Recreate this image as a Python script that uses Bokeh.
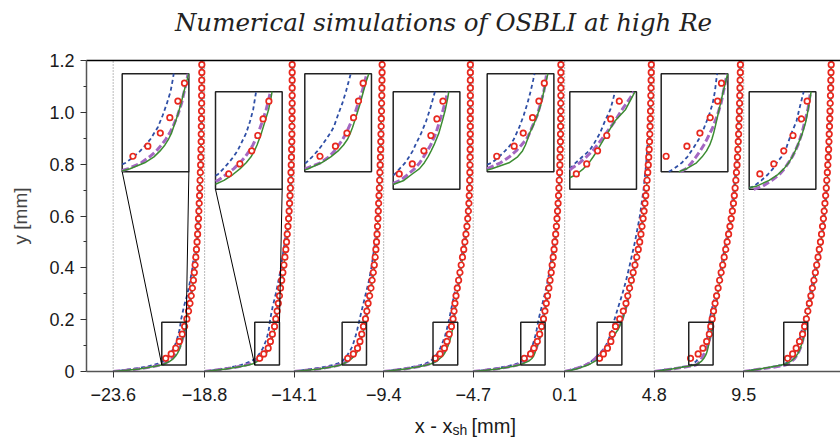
from bokeh.plotting import figure
from bokeh.models import FixedTicker, LinearAxis, Label, Range1d
from bokeh.layouts import column
from bokeh.embed import file_html
from bokeh.resources import INLINE

# ---------------- data ----------------
stations = [-23.6, -18.8, -14.1, -9.4, -4.7, 0.1, 4.8, 9.5]
station_labels = ["\u221223.6", "\u221218.8", "\u221214.1", "\u22129.4", "\u22124.7", "0.1", "4.8", "9.5"]
y_ticks = [0, 0.2, 0.4, 0.6, 0.8, 1.0, 1.2]
y_tick_labels = ["0", "0.2", "0.4", "0.6", "0.8", "1.0", "1.2"]
y_minor = [0.1, 0.3, 0.5, 0.7, 0.9, 1.1]

# wall-normal positions of the model profiles [mm]
y_line = [0, 0.005, 0.01, 0.015, 0.02, 0.025, 0.03, 0.04, 0.05, 0.06, 0.07, 0.08, 0.09, 0.10,
          0.12, 0.14, 0.16, 0.18, 0.20, 0.25, 0.30, 0.35, 0.40, 0.50, 0.60, 0.70, 0.80, 0.90,
          1.00, 1.10, 1.20]

# u/U profiles, green solid model
u_green = [
    [0, .15, .29, .39, .47, .535, .575, .635, .673, .698, .718, .733, .745, .753, .770, .784, .796, .809, .822, .852, .876, .897, .913, .938, .957, .970, .979, .985, .988, .990, .991],
    [0, .12, .24, .34, .42, .49, .54, .595, .632, .662, .687, .707, .721, .732, .750, .765, .780, .790, .798, .818, .840, .862, .883, .917, .945, .962, .972, .977, .979, .980, .980],
    [0, .14, .28, .38, .46, .515, .55, .604, .642, .672, .694, .711, .722, .731, .747, .762, .775, .789, .805, .825, .850, .873, .893, .922, .938, .952, .962, .970, .976, .980, .983],
    [0, .12, .24, .34, .42, .48, .53, .595, .627, .660, .680, .695, .708, .720, .740, .754, .767, .777, .785, .800, .820, .842, .864, .910, .944, .958, .964, .967, .968, .968, .968],
    [0, .14, .27, .37, .45, .51, .55, .62, .655, .675, .687, .696, .704, .716, .736, .751, .762, .773, .784, .810, .835, .860, .880, .915, .940, .960, .970, .976, .979, .980, .980],
    [0, .07, .13, .18, .22, .26, .29, .34, .39, .42, .443, .46, .476, .49, .519, .549, .594, .62, .645, .688, .72, .75, .78, .835, .88, .912, .935, .95, .96, .966, .97],
    [0, .10, .20, .29, .38, .458, .49, .53, .553, .571, .584, .593, .600, .606, .617, .628, .639, .651, .663, .685, .71, .735, .762, .815, .865, .902, .926, .94, .95, .957, .963],
    [0, .09, .18, .27, .35, .42, .475, .527, .562, .587, .606, .620, .632, .642, .661, .675, .684, .692, .700, .73, .76, .79, .815, .865, .90, .925, .945, .958, .968, .975, .98],
]
# purple dashed model
u_purple = [
    [0, .14, .27, .38, .46, .525, .568, .621, .655, .683, .704, .722, .737, .750, .770, .786, .797, .808, .818, .848, .873, .894, .911, .937, .956, .969, .978, .984, .987, .989, .990],
    [0, .11, .22, .32, .40, .46, .51, .57, .604, .636, .661, .683, .700, .715, .737, .754, .770, .782, .793, .815, .837, .860, .881, .916, .944, .961, .971, .976, .978, .979, .979],
    [0, .13, .26, .36, .44, .50, .54, .60, .635, .657, .675, .691, .705, .716, .738, .754, .770, .783, .795, .820, .846, .870, .890, .920, .937, .951, .961, .969, .975, .979, .982],
    [0, .12, .23, .33, .41, .47, .52, .58, .612, .640, .661, .677, .692, .706, .728, .743, .758, .771, .780, .797, .818, .840, .862, .908, .943, .957, .963, .966, .967, .967, .967],
    [0, .13, .25, .35, .43, .49, .53, .585, .622, .649, .671, .692, .704, .714, .735, .749, .762, .770, .777, .805, .830, .855, .877, .913, .939, .959, .969, .975, .978, .979, .979],
    [0, .06, .11, .16, .20, .235, .265, .31, .34, .37, .405, .432, .457, .477, .514, .549, .580, .614, .642, .686, .718, .748, .778, .833, .878, .91, .933, .948, .958, .965, .969],
    [0, .10, .21, .30, .39, .465, .487, .51, .528, .545, .560, .573, .585, .597, .615, .630, .640, .650, .658, .682, .708, .733, .76, .813, .863, .90, .924, .938, .948, .956, .962],
    [0, .10, .20, .30, .39, .465, .50, .537, .568, .589, .605, .620, .632, .643, .659, .671, .683, .690, .698, .728, .758, .788, .813, .863, .898, .923, .943, .956, .966, .973, .978],
]
# blue dashed model
u_blue = [
    [0, .11, .22, .31, .39, .45, .50, .558, .589, .617, .639, .659, .674, .689, .709, .726, .741, .750, .758, .79, .83, .86, .885, .922, .948, .965, .976, .983, .987, .989, .990],
    [0, .10, .19, .27, .34, .40, .45, .52, .569, .593, .615, .634, .651, .663, .687, .703, .716, .724, .732, .76, .795, .825, .852, .895, .93, .952, .966, .973, .977, .978, .979],
    [0, .10, .20, .29, .37, .43, .48, .541, .566, .588, .607, .624, .640, .654, .671, .689, .704, .717, .730, .765, .80, .835, .862, .905, .928, .945, .957, .966, .973, .978, .981],
    [0, .10, .19, .28, .35, .41, .46, .52, .556, .578, .601, .617, .632, .643, .667, .687, .703, .717, .730, .76, .79, .82, .848, .898, .935, .952, .96, .964, .966, .967, .967],
    [0, .11, .21, .30, .38, .44, .49, .55, .579, .604, .626, .640, .651, .662, .680, .695, .708, .719, .729, .765, .80, .832, .858, .902, .932, .955, .966, .973, .977, .978, .979],
    [0, .06, .11, .15, .19, .225, .255, .30, .335, .363, .388, .415, .443, .460, .488, .508, .531, .544, .556, .60, .645, .685, .72, .785, .84, .88, .91, .932, .947, .957, .964],
    [0, .09, .18, .27, .35, .417, .438, .47, .493, .509, .525, .540, .553, .562, .581, .596, .605, .611, .618, .65, .685, .715, .745, .80, .85, .89, .916, .932, .943, .952, .959],
    [0, .09, .18, .27, .35, .43, .465, .496, .522, .543, .558, .577, .593, .600, .617, .637, .648, .660, .672, .705, .74, .772, .80, .855, .893, .92, .94, .954, .964, .971, .977],
]

# experimental points (red circles)
exp_y = [0.051, 0.068, 0.090, 0.116, 0.144, 0.174, 0.203, 0.233, 0.263, 0.292, 0.322, 0.352,
         0.382, 0.411, 0.441, 0.471, 0.500, 0.530, 0.560, 0.590, 0.619, 0.649, 0.679, 0.708,
         0.738, 0.768, 0.797, 0.827, 0.857, 0.887, 0.916, 0.946, 0.976, 1.005, 1.035, 1.065,
         1.094, 1.124, 1.154, 1.184]
exp_u = [
    [.587, .648, .699, .738, .771, .798, .823, .842, .858, .872, .885, .896, .906, .915, .923, .930, .937, .943, .948, .953, .957, .961, .965, .968, .971, .974, .977, .979, .981, .983, .984, .985, .986, .987, .988, .988, .989, .989, .990, .990],
    [.615, .661, .710, .735, .757, .781, .795, .81, .823, .836, .848, .861, .874, .886, .897, .907, .915, .923, .931, .938, .944, .949, .954, .958, .962, .965, .968, .970, .972, .974, .975, .976, .977, .977, .978, .978, .978, .978, .978, .978],
    [.598, .661, .708, .735, .755, .774, .797, .812, .826, .843, .858, .871, .884, .895, .905, .913, .920, .926, .931, .936, .940, .944, .948, .952, .955, .958, .961, .964, .966, .968, .970, .972, .974, .976, .977, .979, .980, .981, .982, .983],
    [.576, .630, .678, .707, .732, .757, .775, .786, .796, .808, .822, .837, .852, .866, .880, .894, .907, .919, .930, .939, .946, .952, .956, .959, .961, .963, .964, .965, .966, .966, .967, .967, .967, .968, .968, .968, .968, .968, .968, .968],
    [.570, .641, .678, .716, .742, .764, .785, .801, .816, .830, .845, .858, .871, .882, .893, .903, .912, .921, .929, .936, .942, .948, .953, .957, .961, .965, .968, .970, .972, .974, .975, .976, .977, .978, .978, .979, .979, .979, .979, .979],
    [.390, .433, .478, .516, .532, .568, .615, .655, .685, .705, .725, .745, .765, .785, .805, .822, .838, .852, .864, .876, .887, .897, .906, .914, .921, .928, .934, .939, .944, .948, .951, .954, .957, .959, .961, .963, .965, .966, .967, .968],
    [.406, .491, .544, .586, .616, .632, .648, .663, .68, .697, .714, .731, .748, .765, .782, .799, .815, .831, .846, .860, .873, .885, .895, .904, .912, .919, .925, .930, .935, .939, .943, .946, .949, .952, .954, .956, .958, .960, .962, .963],
    [.490, .546, .586, .623, .657, .680, .700, .716, .733, .750, .767, .784, .800, .815, .830, .844, .857, .869, .880, .890, .899, .907, .915, .922, .928, .934, .939, .944, .948, .952, .955, .958, .961, .964, .966, .969, .971, .973, .975, .977],
]

# zoom windows (u/U range and y range) shown magnified in the insets
zoom_u_lo = [.543, .560, .536, .551, .531, .363, .386, .447]
zoom_u_hi = [.816, .836, .808, .827, .803, .639, .658, .715]
zoom_y = [0.025, 0.19]

title_text = "Numerical simulations of OSBLI at high Re"

# ---------------- layout / style ----------------
U_SCALE = 4.7          # mm of x per unit u/U
inset_left = [-23.126, -18.228, -13.541, -8.9, -3.966, 0.37, 5.168, 9.787]
INSET_W = 3.5
INSET_Y_HIGH = (0.771, 1.149)
INSET_Y_LOW = (0.703, 1.0795)

GREEN = "#3c8c32"
BLUE = "#2f4fa6"
PURPLE = "#a467c2"
RED = "#e8281e"
FONT = "Liberation Sans"
W = 840
FRAME_LEFT = 86
MK_SIZE = 5.5
MK_LW = 1.7


def text_panel(height):
    # its frame is aligned with the main plot's frame (page x 86..840)
    f = figure(width=W, height=height, output_backend="svg", toolbar_location=None,
               x_range=Range1d(FRAME_LEFT, W), y_range=Range1d(0, height),
               x_axis_type=None, y_axis_type=None, min_border=0)
    f.outline_line_color = None
    f.grid.visible = False
    f.background_fill_color = "white"
    f.border_fill_color = "white"
    return f


# title panel (page rows 0..48)
title_fig = text_panel(48)
title_fig.add_layout(Label(x=443, y=48 - 22, text=title_text,
                           text_font="DejaVu Serif", text_font_style="italic", text_font_size="24.5px",
                           text_align="center", text_baseline="middle", text_color="#222222"))

# main plot (page rows 48..411)
p = figure(width=W, height=363, output_backend="svg", toolbar_location=None,
           x_range=Range1d(-25, 14.58), y_range=Range1d(0, 1.2),
           min_border_left=FRAME_LEFT, min_border_right=0, min_border_top=12, min_border_bottom=40)
p.outline_line_color = None
p.grid.visible = False
p.background_fill_color = "white"
p.border_fill_color = "white"

p.xaxis.ticker = FixedTicker(ticks=stations)
p.xaxis.major_label_overrides = {s: l for s, l in zip(stations, station_labels)}
p.yaxis.ticker = FixedTicker(ticks=y_ticks, minor_ticks=y_minor)
p.yaxis.major_label_overrides = {t: l for t, l in zip(y_ticks, y_tick_labels)}
for ax in (p.xaxis[0], p.yaxis[0]):
    ax.major_label_text_font = FONT
    ax.major_label_text_font_size = "18px"
    ax.major_label_text_color = "#1a1a1a"
    ax.axis_line_color = "#555555"
    ax.axis_line_width = 1.5
    ax.major_tick_line_color = "#333333"
    ax.minor_tick_line_color = "#333333"
    ax.major_tick_in = 0
    ax.major_tick_out = 6
    ax.minor_tick_in = 0
    ax.minor_tick_out = 3
p.xaxis.major_label_standoff = 10
p.yaxis.major_label_standoff = 6
p.yaxis.axis_label = "y [mm]"
p.yaxis.axis_label_text_font = FONT
p.yaxis.axis_label_text_font_size = "19px"
p.yaxis.axis_label_text_font_style = "normal"
p.yaxis.axis_label_standoff = 15

top_axis = LinearAxis(ticker=FixedTicker(ticks=[]), major_label_text_font_size="0px",
                      axis_line_color="black", axis_line_width=1.3,
                      major_tick_line_color=None, minor_tick_line_color=None)
p.add_layout(top_axis, "above")

# dotted station lines
p.segment(x0=stations, y0=[0] * len(stations), x1=stations, y1=[1.2] * len(stations),
          line_color="#777777", line_dash="1 2", line_width=1)

# main profiles
for i, st in enumerate(stations):
    p.line([st + U_SCALE * u for u in u_blue[i]], y_line, line_color=BLUE, line_width=1.8, line_dash="4 3")
    p.line([st + U_SCALE * u for u in u_purple[i]], y_line, line_color=PURPLE, line_width=3, line_dash="7 3")
    p.line([st + U_SCALE * u for u in u_green[i]], y_line, line_color=GREEN, line_width=1.5)
    p.scatter([st + U_SCALE * u for u in exp_u[i]], exp_y, marker="circle", size=MK_SIZE,
              line_color=RED, line_width=MK_LW, fill_color="white")


def clip_polyline(xs, ys, x0, x1, y0, y1):
    out, cx, cy = [], [], []
    for k in range(len(xs) - 1):
        ax, ay, bx, by = xs[k], ys[k], xs[k + 1], ys[k + 1]
        dx, dy = bx - ax, by - ay
        t0, t1, ok = 0.0, 1.0, True
        for pp, qq in ((-dx, ax - x0), (dx, x1 - ax), (-dy, ay - y0), (dy, y1 - ay)):
            if pp == 0:
                if qq < 0:
                    ok = False
                    break
            else:
                t = qq / pp
                if pp < 0:
                    if t > t1:
                        ok = False
                        break
                    t0 = max(t0, t)
                else:
                    if t < t0:
                        ok = False
                        break
                    t1 = min(t1, t)
        if not ok:
            if cx:
                out.append((cx, cy))
                cx, cy = [], []
            continue
        sx, sy = ax + t0 * dx, ay + t0 * dy
        ex, ey = ax + t1 * dx, ay + t1 * dy
        if cx and abs(cx[-1] - sx) < 1e-12 and abs(cy[-1] - sy) < 1e-12:
            cx.append(ex)
            cy.append(ey)
        else:
            if cx:
                out.append((cx, cy))
            cx, cy = [sx, ex], [sy, ey]
        if t1 < 1.0:
            out.append((cx, cy))
            cx, cy = [], []
    if cx:
        out.append((cx, cy))
    return out


ya, yb = zoom_y
for i, st in enumerate(stations):
    ua, ub = zoom_u_lo[i], zoom_u_hi[i]
    sx0, sx1 = st + U_SCALE * ua, st + U_SCALE * ub
    bx0 = inset_left[i]
    bx1 = bx0 + INSET_W
    by0, by1 = INSET_Y_HIGH if i % 2 == 0 else INSET_Y_LOW

    p.quad(left=[sx0], right=[sx1], bottom=[ya], top=[yb], fill_color=None,
           line_color="#222222", line_width=1.5)
    p.quad(left=[bx0], right=[bx1], bottom=[by0], top=[by1], fill_color="white",
           line_color="#222222", line_width=1.5)
    if i < 2:
        p.segment(x0=[bx0, bx1], y0=[by0, by0], x1=[sx0, sx1], y1=[ya, yb],
                  line_color="black", line_width=1)

    def tx(u):
        return bx0 + (u - ua) / (ub - ua) * (bx1 - bx0)

    def ty(y):
        return by0 + (y - ya) / (yb - ya) * (by1 - by0)

    for series, col, lw, dash in ((u_blue[i], BLUE, 1.8, "4 3"),
                                  (u_purple[i], PURPLE, 3, "7 3"),
                                  (u_green[i], GREEN, 1.5, "solid")):
        segs = clip_polyline(series, y_line, ua, ub, ya, yb)
        if segs:
            p.multi_line([[tx(u) for u in s[0]] for s in segs],
                         [[ty(y) for y in s[1]] for s in segs],
                         line_color=col, line_width=lw, line_dash=dash)
    inside = [(u, y) for u, y in zip(exp_u[i], exp_y) if ua <= u <= ub and ya <= y <= yb]
    p.scatter([tx(u) for u, y in inside], [ty(y) for u, y in inside], marker="circle", size=MK_SIZE,
              line_color=RED, line_width=MK_LW, fill_color="white")

# x-axis title panel (page rows 411..439), with subscript
xlab_fig = text_panel(28)
xlab_fig.add_layout(Label(x=452, y=14, text="x - x", text_font=FONT, text_font_size="20px",
                          text_align="right", text_baseline="alphabetic", text_color="#1a1a1a"))
xlab_fig.add_layout(Label(x=452, y=10, text="sh", text_font=FONT, text_font_size="14px",
                          text_align="left", text_baseline="alphabetic", text_color="#1a1a1a"))
xlab_fig.add_layout(Label(x=471, y=14, text="[mm]", text_font=FONT, text_font_size="20px",
                          text_align="left", text_baseline="alphabetic", text_color="#1a1a1a"))

layout = column(title_fig, p, xlab_fig, spacing=0)
open("out.html", "w").write(file_html(layout, INLINE))
